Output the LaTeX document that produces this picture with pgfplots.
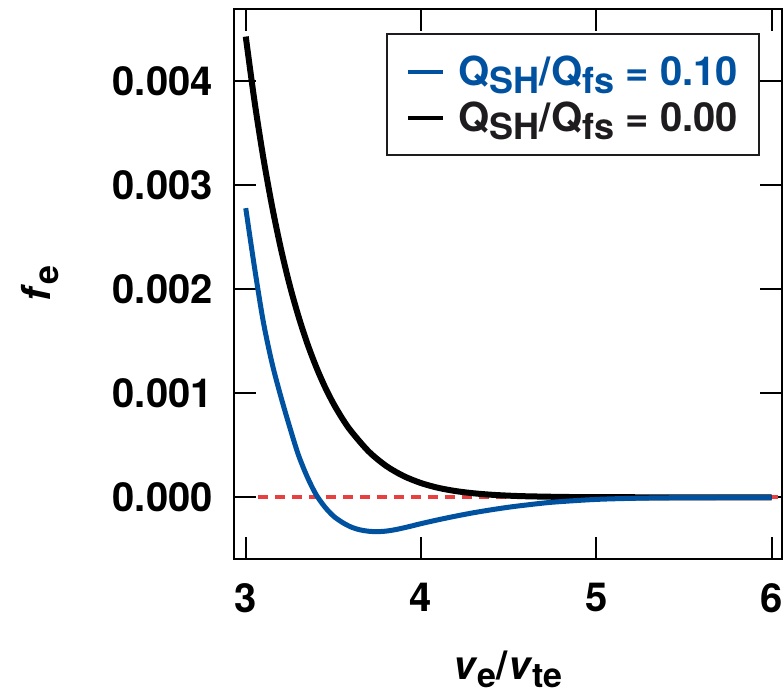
\documentclass[border=0pt]{standalone}
\usepackage{fontspec}
\setmainfont{TeX Gyre Heros}
\usepackage{pgfplots}
\pgfplotsset{compat=1.18}
\definecolor{cblue}{RGB}{0,82,160}
\definecolor{cred}{RGB}{232,64,64}
\definecolor{cblack}{RGB}{30,28,30}
\newcommand{\sub}[1]{\raisebox{-0.2em}{\fontsize{34}{36}\selectfont\bfseries #1}}
\newcommand{\lsub}[1]{\raisebox{-0.2em}{\fontsize{36}{38}\selectfont\bfseries #1}}
\newcommand{\Q}{\textbf{Q}}
\begin{document}
\begin{tikzpicture}
\useasboundingbox (-234pt,-137pt) rectangle (550pt,559pt);
\begin{axis}[at={(0,0)}, anchor=south west, scale only axis,
  width=548pt, height=550pt,
  xmin=2.933, xmax=6.059, ymin=-0.000593, ymax=0.004695,
  xtick={3,4,5,6}, xticklabels={3,4,5,6},
  ytick={0,0.001,0.002,0.003,0.004},
  yticklabels={0.000,0.001,0.002,0.003,0.004},
  scaled y ticks=false, minor tick num=0,
  /pgf/number format/assume math mode=true,
  tick align=inside, major tick length=22pt,
  tick style={line width=2pt, black},
  axis line style={line width=2.5pt},
  font=\fontsize{40}{48}\selectfont\bfseries,
  tick label style={font=\fontsize{40}{48}\selectfont\bfseries},
  xticklabel style={anchor=north, inner sep=0pt, yshift=-24pt},
  yticklabel style={anchor=east, inner sep=0pt, xshift=-21pt},
  xlabel={\textbf{\textit{v}}\sub{e}/\textbf{\textit{v}}\sub{te}},
  ylabel={\textbf{\textit{f}}\sub{e}},
  xlabel style={at={(axis description cs:0.5,-0.2)}, anchor=center},
  ylabel style={at={(axis description cs:-0.354,0.5)}, anchor=center},
  reverse legend,
  legend cell align=left,
  legend image code/.code={\draw[line width=4.5pt] (0pt,0pt) -- (35pt,0pt); \path (46pt,0pt);},
  legend style={at={(0.96,0.956)}, anchor=north east, draw=cblack,
    line width=2pt, fill=white, inner xsep=19pt, inner ysep=20pt,
    row sep=11pt,
    font=\fontsize{40}{48}\selectfont\bfseries},
]
\addplot[cred, line width=4pt, dash pattern=on 10pt off 7pt, forget plot]
  coordinates {(3.07,0) (6.06,0)};
\addplot[black, line width=6pt, smooth] coordinates {
 (3.00,0.004430) (3.05,0.003808) (3.10,0.003268) (3.15,0.002800)
 (3.20,0.002395) (3.25,0.002045) (3.30,0.001745) (3.35,0.001485)
 (3.40,0.001262) (3.45,0.001068) (3.50,0.000902) (3.55,0.000760)
 (3.60,0.000638) (3.70,0.000443) (3.80,0.000303) (3.90,0.000205)
 (4.00,0.000137) (4.10,0.0000905) (4.20,0.0000595) (4.30,0.0000388)
 (4.40,0.0000250) (4.50,0.0000160) (4.60,0.0000101) (4.80,0.0000040)
 (5.00,0.0000015) (5.50,0.0000001) (6.00,0.0)};
\addlegendentry{\color{cblack}\Q\lsub{SH}/\Q\lsub{fs} = 0.00}
\addplot[cblue, line width=5pt, smooth] coordinates {
 (3.00,0.00278) (3.05,0.00221) (3.10,0.00169) (3.15,0.00129)
 (3.20,0.00097) (3.25,0.00068) (3.30,0.00041) (3.35,0.00020)
 (3.40,0.00003) (3.45,-0.00009) (3.50,-0.00018) (3.55,-0.00024)
 (3.60,-0.000285) (3.65,-0.000312) (3.70,-0.000326) (3.75,-0.000330)
 (3.80,-0.000325) (3.85,-0.000312) (3.90,-0.000294) (3.95,-0.000274)
 (4.00,-0.000253) (4.10,-0.000215)
 (4.20,-0.000180) (4.30,-0.000148) (4.40,-0.000120) (4.50,-0.000095)
 (4.60,-0.000074) (4.75,-0.000047) (5.00,-0.000020) (5.25,-0.000008)
 (5.50,-0.000003) (6.00,0.0)};
\addlegendentry{\color{cblue}\Q\lsub{SH}/\Q\lsub{fs} = 0.10}
\end{axis}
\end{tikzpicture}
\end{document}
